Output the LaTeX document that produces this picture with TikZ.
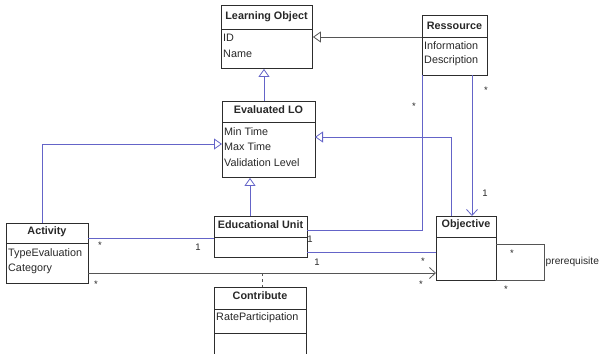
\documentclass[tikz,border=0pt]{standalone}
\usepackage{fontspec}
\setmainfont{Liberation Sans}
\usetikzlibrary{arrows.meta,calc}
\definecolor{assoc}{RGB}{100,100,200}
\definecolor{gline}{RGB}{85,85,85}
\definecolor{boxc}{RGB}{45,45,45}
\definecolor{txt}{RGB}{40,40,40}
\begin{document}
\begin{tikzpicture}[x=1pt,y=-1pt,
  umlbox/.style={draw=boxc,line width=0.9pt,fill=white,inner sep=0pt,anchor=north west},
  sepl/.style={draw=boxc,line width=0.8pt},
  ttl/.style={font=\fontsize{10.8}{12}\selectfont\bfseries,text=txt,inner sep=0pt},
  attr/.style={font=\fontsize{10.8}{12}\selectfont,text=txt,inner sep=0pt,anchor=west},
  mult/.style={font=\fontsize{9.5}{11}\selectfont,text=txt,inner sep=0pt},
  blue/.style={draw=assoc,line width=0.8pt},
  grayl/.style={draw=gline,line width=0.8pt},
  gen/.style={-{Triangle[open,length=8pt,width=11pt,fill=white]}},
  nav/.style={-{Straight Barb[length=6pt,width=11pt]}}
]
\useasboundingbox (0,0) rectangle (601,353);
\clip (0,0) rectangle (601,353);

% boxes
\node[umlbox,minimum width=91pt,minimum height=63pt] (lo) at (221,5) {};
\draw[sepl] (221,29) -- (312,29);
\node[ttl] (loT) at (266.5,17) {Learning Object};
\node[attr] (loA) at (223,38) {ID};
\node[attr] (loB) at (223,54) {Name};

\node[umlbox,minimum width=65pt,minimum height=60pt] (res) at (422,15) {};
\draw[sepl] (422,37) -- (487,37);
\node[ttl] (resT) at (454.5,26) {Ressource};
\node[attr] (resA) at (424,46) {Information};
\node[attr] (resB) at (424,61) {Description};

\node[umlbox,minimum width=93pt,minimum height=76pt] (ev) at (222,101) {};
\draw[sepl] (222,122) -- (315,122);
\node[ttl] (evT) at (268.5,110) {Evaluated LO};
\node[attr] (evA) at (224,132) {Min Time};
\node[attr] (evB) at (224,147) {Max Time};
\node[attr] (evC) at (224,163) {Validation Level};

\node[umlbox,minimum width=82pt,minimum height=60pt] (act) at (6,223) {};
\draw[sepl] (6,243) -- (88,243);
\node[ttl] (actT) at (47,232) {Activity};
\node[attr] (actA) at (8,254) {TypeEvaluation};
\node[attr] (actB) at (8,269) {Category};

\node[umlbox,minimum width=93pt,minimum height=41pt] (eu) at (214,216) {};
\draw[sepl] (214,237) -- (307,237);
\node[ttl] (euT) at (260.5,225) {Educational Unit};

\node[umlbox,minimum width=92pt,minimum height=80pt] (con) at (214,287) {};
\draw[sepl] (214,309) -- (306,309);
\draw[sepl] (214,333) -- (306,333);
\node[ttl] (conT) at (260,296) {Contribute};
\node[attr] (conA) at (216,318) {RateParticipation};

\node[umlbox,minimum width=60pt,minimum height=64pt] (obj) at (436,216) {};
\draw[sepl] (436,237) -- (496,237);
\node[ttl] (objT) at (466,225) {Objective};

% coordinates
\coordinate (resL) at (res.west |- 0,37);
\coordinate (loR) at (lo.east |- 0,37);
\coordinate (actTop) at (42,223);
\coordinate (actBend) at (42,144);
\coordinate (evL) at (222,144);
\coordinate (objTopA) at (451,216);
\coordinate (objBend) at (451,137);
\coordinate (evR) at (315,137);
\coordinate (resB1) at (472,75);
\coordinate (objTopB) at (472,216);
\coordinate (resB2) at (422,75);
\coordinate (resBend) at (422,230);
\coordinate (euR1) at (307,230);
\coordinate (actR1) at (88,238);
\coordinate (euL) at (214,238);
\coordinate (euR2) at (307,252);
\coordinate (objL1) at (436,252);
\coordinate (actR2) at (88,273);
\coordinate (objL2) at (436,273);
\coordinate (assocMid) at (262,273);
\coordinate (conTop) at (262,287);
\coordinate (objR) at (496,244);
\coordinate (loopA) at (544,244);
\coordinate (loopB) at (544,280);
\coordinate (objBR) at (496,280);

% connectors
\draw[grayl,gen] (resL) -- (loR);
\draw[blue,gen] (ev.north -| 264,0) -- (lo.south -| 264,0);
\draw[blue,gen] (actTop) -- (actBend) -- (evL);
\draw[blue,gen] (eu.north -| 250,0) -- (ev.south -| 250,0);
\draw[blue,gen] (objTopA) -- (objBend) -- (evR);
\draw[blue,nav] (resB1) -- (objTopB);
\draw[blue] (resB2) -- (resBend) -- (euR1);
\draw[blue] (actR1) -- (euL);
\draw[blue] (euR2) -- (objL1);
\draw[grayl,nav] (actR2) -- (objL2);
\draw[grayl,dashed,dash pattern=on 3pt off 3pt] (assocMid) -- (conTop);
\draw[grayl] (objR) -- (loopA) -- (loopB) -- (objBR);

% multiplicities
\node[mult] (m1) at (486,90) {*};
\node[mult] (m2) at (485,193) {1};
\node[mult] (m3) at (414,106) {*};
\node[mult] (m4) at (310,239) {1};
\node[mult] (m5) at (100,245) {*};
\node[mult] (m6) at (198,247) {1};
\node[mult] (m7) at (317,262) {1};
\node[mult] (m8) at (423,261) {*};
\node[mult] (m9) at (96,284) {*};
\node[mult] (m10) at (421,284) {*};
\node[mult] (m11) at (512,253) {*};
\node[mult] (m12) at (506,289) {*};
\node[attr,font=\fontsize{10.2}{12}\selectfont] (pre) at (545.5,262) {prerequisite};
\end{tikzpicture}
\end{document}
